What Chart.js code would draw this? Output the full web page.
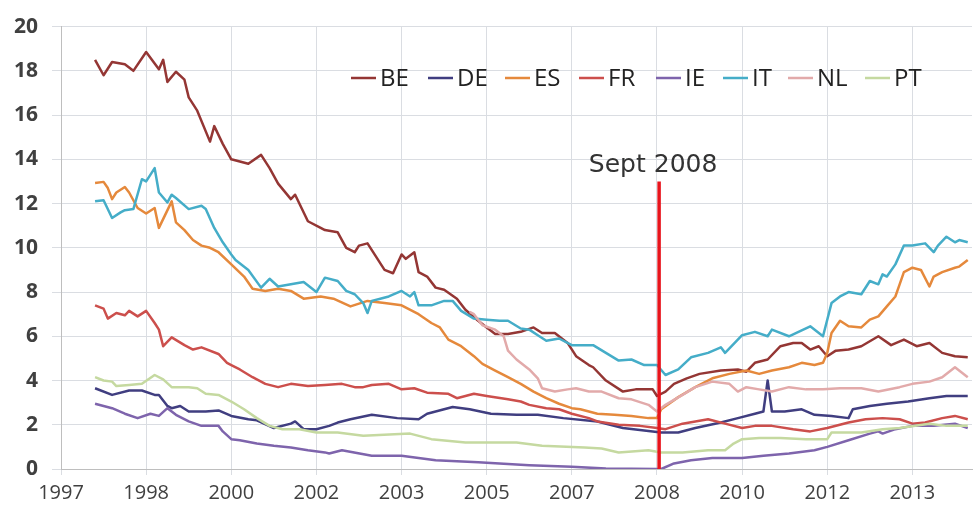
<!DOCTYPE html>
<html><head><meta charset="utf-8">
<script src="https://cdn.jsdelivr.net/npm/chart.js@4.4.0/dist/chart.umd.min.js"></script>
<style>html,body{margin:0;padding:0;background:#fff;}#wrap{width:979px;height:509px;}</style>
</head><body><div id="wrap"><canvas id="c" width="979" height="509"></canvas></div>
<script>
// months counted from Jan 1997 (0), values in %
const seriesNames = ['BE','DE','ES','FR','IE','IT','NL','PT'];
const tickLabels = ['1997','1998','2000','2002','2003','2005','2007','2008','2010','2012','2013'];
const markerLabel = 'Sept 2008';
const markerMonth = 140.5;
const markerTop = 13;

const BE = [[8,18.5],[10,17.8],[12,18.4],[15,18.3],[17,18.0],[20,18.85],[23,18.07],[24,18.5],[25,17.5],[27,17.96],[29,17.6],[30,16.8],[32,16.2],[35,14.8],[36,15.5],[38,14.7],[40,14.0],[44,13.8],[47,14.2],[49,13.6],[51,12.9],[54,12.2],[55,12.4],[58,11.2],[61,10.9],[62,10.8],[65,10.7],[67,10.0],[69,9.8],[70,10.1],[72,10.2],[74,9.6],[76,9.0],[78,8.85],[80,9.7],[81,9.5],[83,9.8],[84,8.9],[86,8.7],[88,8.2],[90,8.1],[93,7.7],[95,7.2],[98,6.7],[100,6.4],[102,6.1],[105,6.1],[108,6.2],[111,6.4],[113,6.15],[116,6.15],[119,5.7],[121,5.1],[124,4.7],[125,4.6],[128,4.0],[132,3.5],[135,3.6],[138,3.6],[139,3.6],[140,3.3],[142,3.5],[144,3.85],[147,4.1],[150,4.3],[155,4.45],[159,4.5],[161,4.4],[163,4.8],[166,4.95],[169,5.55],[172,5.7],[174,5.7],[176,5.4],[178,5.55],[180,5.1],[182,5.35],[185,5.4],[188,5.55],[192,6.0],[195,5.6],[198,5.85],[201,5.55],[204,5.7],[207,5.25],[210,5.1],[213,5.05]];
const DE = [[8,3.65],[12,3.35],[16,3.55],[19,3.55],[22,3.35],[23,3.35],[25,2.85],[26,2.75],[28,2.85],[30,2.6],[34,2.6],[37,2.65],[40,2.4],[44,2.25],[46,2.2],[50,1.85],[54,2.05],[55,2.15],[57,1.8],[60,1.8],[63,1.95],[65,2.1],[68,2.25],[73,2.45],[79,2.3],[84,2.25],[86,2.5],[92,2.8],[96,2.7],[101,2.5],[107,2.45],[112,2.45],[118,2.3],[126,2.15],[132,1.85],[139,1.7],[141,1.65],[145,1.65],[149,1.85],[155,2.1],[159,2.3],[163,2.5],[165,2.6],[166,4.0],[167,2.6],[170,2.6],[174,2.7],[177,2.45],[181,2.4],[185,2.3],[186,2.7],[190,2.85],[194,2.95],[199,3.05],[204,3.2],[208,3.3],[213,3.3]];
const ES = [[8,12.93],[10,12.98],[11,12.7],[12,12.2],[13,12.5],[15,12.75],[16,12.5],[18,11.8],[20,11.55],[22,11.8],[23,10.9],[26,12.1],[27,11.15],[29,10.8],[31,10.35],[33,10.1],[35,10.0],[37,9.8],[40,9.25],[43,8.7],[45,8.15],[48,8.05],[51,8.15],[54,8.05],[57,7.7],[61,7.8],[64,7.7],[68,7.35],[72,7.6],[76,7.5],[80,7.4],[84,7.0],[87,6.6],[89,6.4],[91,5.85],[94,5.55],[97,5.1],[99,4.75],[102,4.45],[105,4.15],[108,3.85],[111,3.5],[114,3.2],[117,2.95],[120,2.75],[122,2.7],[126,2.5],[130,2.45],[134,2.4],[138,2.3],[140,2.3],[141,2.7],[145,3.25],[149,3.7],[153,4.1],[157,4.3],[161,4.45],[164,4.3],[167,4.45],[171,4.6],[174,4.8],[177,4.7],[179,4.8],[180,5.25],[181,6.15],[183,6.7],[185,6.45],[188,6.4],[190,6.75],[192,6.9],[194,7.35],[196,7.8],[197,8.35],[198,8.9],[200,9.1],[202,9.0],[204,8.25],[205,8.7],[207,8.9],[210,9.1],[211,9.15],[213,9.45]];
const FR = [[8,7.4],[10,7.25],[11,6.8],[13,7.05],[15,6.95],[16,7.15],[18,6.9],[20,7.15],[22,6.6],[23,6.3],[24,5.55],[26,5.95],[29,5.6],[31,5.4],[33,5.5],[37,5.2],[39,4.8],[40,4.7],[42,4.5],[45,4.15],[48,3.85],[51,3.7],[54,3.85],[58,3.75],[62,3.8],[66,3.85],[69,3.7],[71,3.7],[73,3.8],[77,3.85],[80,3.6],[83,3.65],[86,3.45],[91,3.4],[93,3.2],[97,3.4],[100,3.3],[105,3.15],[108,3.05],[110,2.9],[114,2.75],[117,2.7],[120,2.5],[124,2.3],[126,2.15],[131,2.0],[136,1.95],[140,1.85],[142,1.8],[146,2.05],[152,2.25],[156,2.05],[160,1.85],[163,1.95],[167,1.95],[172,1.8],[176,1.7],[180,1.85],[185,2.1],[189,2.25],[193,2.3],[197,2.25],[200,2.05],[203,2.1],[207,2.3],[210,2.4],[213,2.25]];
const IE = [[8,2.95],[12,2.75],[15,2.5],[18,2.3],[21,2.5],[23,2.4],[25,2.75],[27,2.45],[30,2.15],[33,1.95],[37,1.95],[38,1.7],[40,1.35],[42,1.3],[46,1.15],[50,1.05],[54,0.97],[58,0.85],[62,0.75],[63,0.7],[66,0.85],[73,0.6],[80,0.6],[88,0.4],[98,0.3],[110,0.17],[120,0.1],[128,0.02],[140,0.0],[141,0.0],[144,0.25],[148,0.4],[153,0.5],[160,0.5],[165,0.6],[171,0.7],[177,0.85],[180,1.0],[185,1.3],[190,1.6],[192,1.7],[193,1.6],[196,1.8],[200,1.95],[205,1.95],[210,2.05],[213,1.85]];
const IT = [[8,12.1],[10,12.15],[12,11.35],[14,11.6],[15,11.7],[17,11.75],[19,13.1],[20,13.0],[22,13.6],[23,12.5],[25,12.05],[26,12.4],[27,12.25],[30,11.75],[33,11.9],[34,11.75],[36,10.9],[38,10.25],[40,9.7],[41,9.45],[44,9.0],[47,8.2],[49,8.6],[51,8.25],[54,8.35],[57,8.45],[60,8.0],[62,8.65],[65,8.5],[67,8.05],[69,7.9],[71,7.5],[72,7.05],[73,7.6],[75,7.7],[77,7.8],[80,8.05],[82,7.8],[83,8.0],[84,7.4],[87,7.4],[90,7.6],[92,7.6],[94,7.15],[97,6.8],[100,6.75],[103,6.7],[105,6.7],[108,6.35],[110,6.3],[112,6.05],[114,5.8],[117,5.9],[120,5.6],[124,5.6],[125,5.6],[128,5.25],[131,4.9],[134,4.95],[137,4.7],[140,4.7],[142,4.25],[145,4.5],[148,5.05],[152,5.25],[155,5.5],[156,5.25],[160,6.05],[163,6.2],[166,6.0],[167,6.3],[171,6.0],[176,6.45],[179,6.0],[181,7.5],[183,7.8],[185,8.0],[188,7.9],[190,8.5],[192,8.35],[193,8.8],[194,8.7],[196,9.25],[198,10.1],[200,10.1],[203,10.2],[205,9.8],[206,10.1],[208,10.5],[210,10.25],[211,10.35],[213,10.25]];
const NL = [[96,7.1],[97,7.0],[99,6.5],[102,6.3],[104,6.0],[105,5.35],[107,4.95],[110,4.5],[112,4.1],[113,3.65],[116,3.5],[119,3.6],[121,3.65],[124,3.5],[127,3.5],[131,3.2],[134,3.15],[138,2.9],[140,2.6],[142,2.9],[146,3.35],[149,3.7],[153,3.95],[157,3.85],[159,3.5],[161,3.7],[164,3.6],[167,3.5],[171,3.7],[175,3.6],[179,3.6],[183,3.65],[188,3.65],[192,3.5],[197,3.7],[200,3.85],[204,3.95],[207,4.15],[210,4.6],[213,4.15]];
const PT = [[8,4.15],[10,4.0],[12,3.95],[13,3.75],[16,3.8],[19,3.85],[22,4.25],[24,4.05],[26,3.7],[30,3.7],[32,3.65],[34,3.4],[37,3.35],[40,3.05],[43,2.7],[46,2.3],[49,1.95],[52,1.8],[56,1.8],[60,1.65],[65,1.65],[71,1.5],[82,1.6],[87,1.35],[95,1.2],[103,1.2],[107,1.2],[113,1.05],[123,0.97],[127,0.93],[131,0.75],[138,0.85],[141,0.75],[146,0.75],[152,0.85],[156,0.85],[158,1.15],[160,1.35],[164,1.4],[169,1.4],[175,1.35],[180,1.35],[181,1.65],[188,1.65],[193,1.8],[197,1.85],[204,2.05],[208,1.95],[213,1.95]];

const seriesData = [BE, DE, ES, FR, IE, IT, NL, PT];
const seriesColors = ['#943634','#403E80','#E5893C','#CC4F4C','#7E64AC','#45ADC8','#E2AAAA','#C5D9A0'];
const legendX = [351, 428, 505, 579, 656, 723, 788, 865];

const datasets = seriesData.map((arr, i) => ({
  label: seriesNames[i],
  data: arr.map(([m, v]) => ({x: m, y: v})),
  borderColor: seriesColors[i],
  borderWidth: 2.5,
  pointRadius: 0,
  tension: 0,
  fill: false,
  borderJoinStyle: 'round',
  order: seriesNames.length - i
}));
datasets.push({
  label: 'marker',
  data: [{x: markerMonth, y: 0}, {x: markerMonth, y: markerTop}],
  borderColor: '#E8141C',
  borderWidth: 3.5,
  pointRadius: 0,
  order: 0
});

const overlay = {
  id: 'overlay',
  afterDatasetsDraw(chart) {
    const {ctx, scales: {x, y}} = chart;
    ctx.save();
    ctx.font = '25px "DejaVu Sans"';
    ctx.fillStyle = '#333333';
    ctx.textAlign = 'center';
    ctx.textBaseline = 'alphabetic';
    ctx.fillText(markerLabel, x.getPixelForValue(markerMonth) - 6, y.getPixelForValue(markerTop) - 9);
    ctx.font = '24px "Open Sans"';
    ctx.textAlign = 'left';
    ctx.textBaseline = 'middle';
    seriesNames.forEach((n, i) => {
      const lx = legendX[i];
      ctx.strokeStyle = seriesColors[i];
      ctx.lineWidth = 2.5;
      ctx.beginPath(); ctx.moveTo(lx, 78); ctx.lineTo(lx + 25, 78); ctx.stroke();
      ctx.fillStyle = '#222222';
      ctx.fillText(n, lx + 29, 79);
    });
    ctx.restore();
  }
};

new Chart(document.getElementById('c'), {
  type: 'line',
  data: { datasets },
  options: {
    responsive: false,
    animation: false,
    devicePixelRatio: 1,
    layout: { padding: { top: 17, right: 7, left: 0, bottom: 0 } },
    plugins: { legend: { display: false }, tooltip: { enabled: false } },
    scales: {
      x: {
        type: 'linear', min: 0, max: 214,
        ticks: {
          stepSize: 20, autoSkip: false, maxRotation: 0, padding: 6,
          color: '#404040', font: { family: 'Open Sans', size: 20 },
          callback: (v) => tickLabels[Math.round(v / 20)] ?? ''
        },
        afterBuildTicks: (s) => { s.ticks = s.ticks.filter(t => t.value % 20 === 0); },
        afterFit: (s) => { s.height = 40; },
        grid: { color: '#DADDE2', lineWidth: 1, tickLength: 6 },
        border: { color: '#BEBEBE', width: 1 }
      },
      y: {
        min: 0, max: 20,
        ticks: {
          stepSize: 2, padding: 14,
          color: '#404040', font: { family: 'Open Sans', size: 21, weight: 'bold' }
        },
        afterFit: (s) => { s.width = 61; },
        grid: { color: '#DADDE2', lineWidth: 1, tickLength: 9 },
        border: { color: '#BEBEBE', width: 1 }
      }
    }
  },
  plugins: [overlay]
});
</script>
</body></html>
